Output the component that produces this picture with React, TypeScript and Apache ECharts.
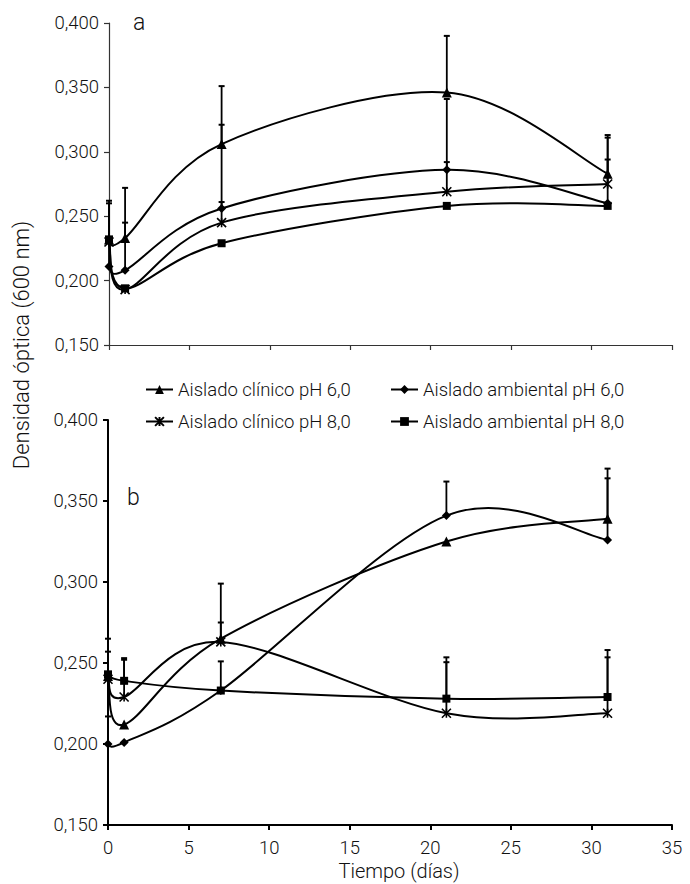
import React, { useEffect, useRef } from 'react';
import * as echarts from 'echarts';

const days = [0, 1, 7, 21, 31];
const names = [
  'Aislado clínico pH 6,0',
  'Aislado ambiental pH 6,0',
  'Aislado clínico pH 8,0',
  'Aislado ambiental pH 8,0',
];
const XSYM = 'path://M0,0L10,10M10,0L0,10M5,0L5,10';
const symbols = ['triangle', 'diamond', XSYM, 'rect'];
const symbolSizes = [10, 9, 9, 8];

// Panel a
const aClin6 = [0.232, 0.233, 0.306, 0.346, 0.283];
const aAmb6 = [0.211, 0.208, 0.256, 0.286, 0.260];
const aClin8 = [0.230, 0.193, 0.245, 0.269, 0.275];
const aAmb8 = [0.232, 0.194, 0.229, 0.258, 0.258];
const aClin6Hi = [null, 0.272, 0.351, 0.390, 0.313];
const aAmb6Hi = [0.260, 0.245, 0.321, 0.341, 0.294];
const aClin8Hi = [null, null, 0.261, 0.292, 0.311];
const aAmb8Hi = [0.262, null, null, null, null];

// Panel b
const bClin6 = [0.242, 0.212, 0.265, 0.325, 0.339];
const bAmb6 = [0.200, 0.201, 0.233, 0.341, 0.326];
const bClin8 = [0.240, 0.229, 0.263, 0.219, 0.219];
const bAmb8 = [0.243, 0.239, 0.233, 0.228, 0.229];
const bClin6Hi = [null, null, 0.299, null, 0.370];
const bAmb6Hi = [0.217, null, 0.251, 0.362, 0.364];
const bClin8Hi = [0.257, 0.252, 0.275, 0.2505, 0.2535];
const bAmb8Hi = [0.265, 0.253, null, 0.2535, 0.258];

const FONT = 'Roboto, "Liberation Sans", Arial, sans-serif';
const WEIGHT = 300;
const TXT = '#111';

// Excel-like smooth curve (Catmull-Rom style bezier in pixel space)
function curveSeries(vals: number[], panel: number) {
  return {
    type: 'custom',
    xAxisIndex: panel,
    yAxisIndex: panel,
    silent: true,
    z: 2,
    encode: { x: 0, y: 1 },
    data: days.map((d, i) => [d, vals[i]]),
    renderItem: (params: any, api: any) => {
      const i = params.dataIndex;
      const n = days.length;
      if (i >= n - 1) return { type: 'group', children: [] };
      const c = (j: number) => api.coord([days[Math.max(0, Math.min(n - 1, j))], vals[Math.max(0, Math.min(n - 1, j))]]);
      const p0 = c(i - 1);
      const p1 = c(i);
      const p2 = c(i + 1);
      const p3 = c(i + 2);
      const t = 1 / 6;
      return {
        type: 'bezierCurve',
        shape: {
          x1: p1[0], y1: p1[1],
          x2: p2[0], y2: p2[1],
          cpx1: p1[0] + (p2[0] - p0[0]) * t,
          cpy1: p1[1] + (p2[1] - p0[1]) * t,
          cpx2: p2[0] - (p3[0] - p1[0]) * t,
          cpy2: p2[1] - (p3[1] - p1[1]) * t,
        },
        style: { stroke: '#000', lineWidth: 2, fill: 'none' },
      };
    },
  };
}

function markerSeries(vals: number[], idx: number, panel: number) {
  return {
    type: 'line',
    name: names[idx],
    xAxisIndex: panel,
    yAxisIndex: panel,
    data: days.map((d, i) => [d, vals[i]]),
    symbol: symbols[idx],
    symbolSize: symbolSizes[idx],
    showSymbol: true,
    lineStyle: { color: '#000', width: 2, opacity: 0 },
    itemStyle: idx === 2
      ? { color: '#000', borderColor: '#000', borderWidth: 1.6 }
      : { color: '#000', borderWidth: 0 },
    z: 3,
  };
}

function errSeries(vals: number[], hi: (number | null)[], panel: number) {
  const data: number[][] = [];
  days.forEach((d, i) => {
    if (hi[i] != null) data.push([d, vals[i], hi[i] as number]);
  });
  return {
    type: 'custom',
    xAxisIndex: panel,
    yAxisIndex: panel,
    silent: true,
    z: 2,
    encode: { x: 0, y: [1, 2] },
    data,
    renderItem: (params: any, api: any) => {
      const p = api.coord([api.value(0), api.value(1)]);
      const h = api.coord([api.value(0), api.value(2)]);
      return {
        type: 'group',
        children: [
          { type: 'line', shape: { x1: p[0], y1: p[1], x2: h[0], y2: h[1] }, style: { stroke: '#000', lineWidth: 1.8 } },
          { type: 'line', shape: { x1: h[0] - 3, y1: h[1], x2: h[0] + 3, y2: h[1] }, style: { stroke: '#000', lineWidth: 2 } },
        ],
      };
    },
  };
}

function yAxis(panel: number) {
  const thin = panel === 0;
  return {
    type: 'value',
    gridIndex: panel,
    min: 0.15,
    max: 0.4,
    interval: 0.05,
    splitLine: { show: false },
    axisLine: { show: true, lineStyle: { color: thin ? '#333' : '#000', width: thin ? 1.2 : 2 } },
    axisTick: { show: true, inside: false, length: 5, lineStyle: { color: thin ? '#333' : '#000', width: thin ? 1.2 : 2 } },
    axisLabel: {
      margin: 10,
      fontSize: 18.5,
      fontFamily: FONT,
      fontWeight: WEIGHT,
      color: TXT,
      formatter: (v: number) => v.toFixed(3).replace('.', ','),
    },
  };
}

function xAxis(panel: number) {
  const thin = panel === 0;
  return {
    type: 'value',
    gridIndex: panel,
    min: 0,
    max: 35,
    interval: 5,
    splitLine: { show: false },
    axisLine: { show: true, onZero: false, lineStyle: { color: thin ? '#333' : '#000', width: thin ? 1.2 : 2 } },
    axisTick: { show: true, inside: false, length: 5, lineStyle: { color: thin ? '#333' : '#000', width: thin ? 1.2 : 2 } },
    axisLabel: {
      show: !thin,
      margin: 13,
      fontSize: 18.5,
      fontFamily: FONT,
      fontWeight: WEIGHT,
      color: TXT,
    },
  };
}

const legendCommon = {
  orient: 'horizontal',
  padding: 0,
  itemWidth: 27,
  itemHeight: 11,
  selectedMode: false,
  lineStyle: { color: '#000', width: 2, opacity: 1 },
  textStyle: { fontSize: 18.5, fontFamily: FONT, fontWeight: WEIGHT, color: TXT },
};

export default function App() {
  const ref = useRef<HTMLDivElement>(null);
  useEffect(() => {
    document.body.style.margin = '0';
    if (!ref.current) return;
    const chart = echarts.init(ref.current, null, { renderer: 'svg' });
    chart.setOption({
      animation: false,
      backgroundColor: '#fff',
      grid: [
        { left: 109, top: 23, width: 563, height: 322, containLabel: false },
        { left: 108, top: 420, width: 564, height: 405, containLabel: false },
      ],
      xAxis: [xAxis(0), xAxis(1)],
      yAxis: [yAxis(0), yAxis(1)],
      legend: [
        { ...legendCommon, data: [names[0]], left: 145, top: 380 },
        { ...legendCommon, data: [names[1]], left: 390, top: 380 },
        { ...legendCommon, data: [names[2]], left: 145, top: 412 },
        { ...legendCommon, data: [names[3]], left: 390, top: 412 },
      ],
      graphic: [
        { type: 'text', left: 133, top: 11, style: { text: 'a', fontSize: 23, fontFamily: FONT, fontWeight: WEIGHT, fill: TXT } },
        { type: 'text', left: 127, top: 486, style: { text: 'b', fontSize: 23, fontFamily: FONT, fontWeight: WEIGHT, fill: TXT } },
        {
          type: 'text', x: 21, y: 345, rotation: Math.PI / 2,
          style: { text: 'Densidad óptica (600 nm)', fontSize: 22, fontFamily: FONT, fontWeight: WEIGHT, fill: TXT, align: 'center', verticalAlign: 'middle' },
        },
        {
          type: 'text', x: 399, y: 871,
          style: { text: 'Tiempo (días)', fontSize: 20, fontFamily: FONT, fontWeight: WEIGHT, fill: TXT, align: 'center', verticalAlign: 'middle' },
        },
      ],
      series: [
        errSeries(aClin6, aClin6Hi, 0),
        errSeries(aAmb6, aAmb6Hi, 0),
        errSeries(aClin8, aClin8Hi, 0),
        errSeries(aAmb8, aAmb8Hi, 0),
        errSeries(bClin6, bClin6Hi, 1),
        errSeries(bAmb6, bAmb6Hi, 1),
        errSeries(bClin8, bClin8Hi, 1),
        errSeries(bAmb8, bAmb8Hi, 1),
        curveSeries(aClin6, 0),
        curveSeries(aAmb6, 0),
        curveSeries(aClin8, 0),
        curveSeries(aAmb8, 0),
        curveSeries(bClin6, 1),
        curveSeries(bAmb6, 1),
        curveSeries(bClin8, 1),
        curveSeries(bAmb8, 1),
        markerSeries(aClin6, 0, 0),
        markerSeries(aAmb6, 1, 0),
        markerSeries(aClin8, 2, 0),
        markerSeries(aAmb8, 3, 0),
        markerSeries(bClin6, 0, 1),
        markerSeries(bAmb6, 1, 1),
        markerSeries(bClin8, 2, 1),
        markerSeries(bAmb8, 3, 1),
      ],
    });
    return () => chart.dispose();
  }, []);
  return <div ref={ref} style={{ width: 690, height: 884 }} />;
}
